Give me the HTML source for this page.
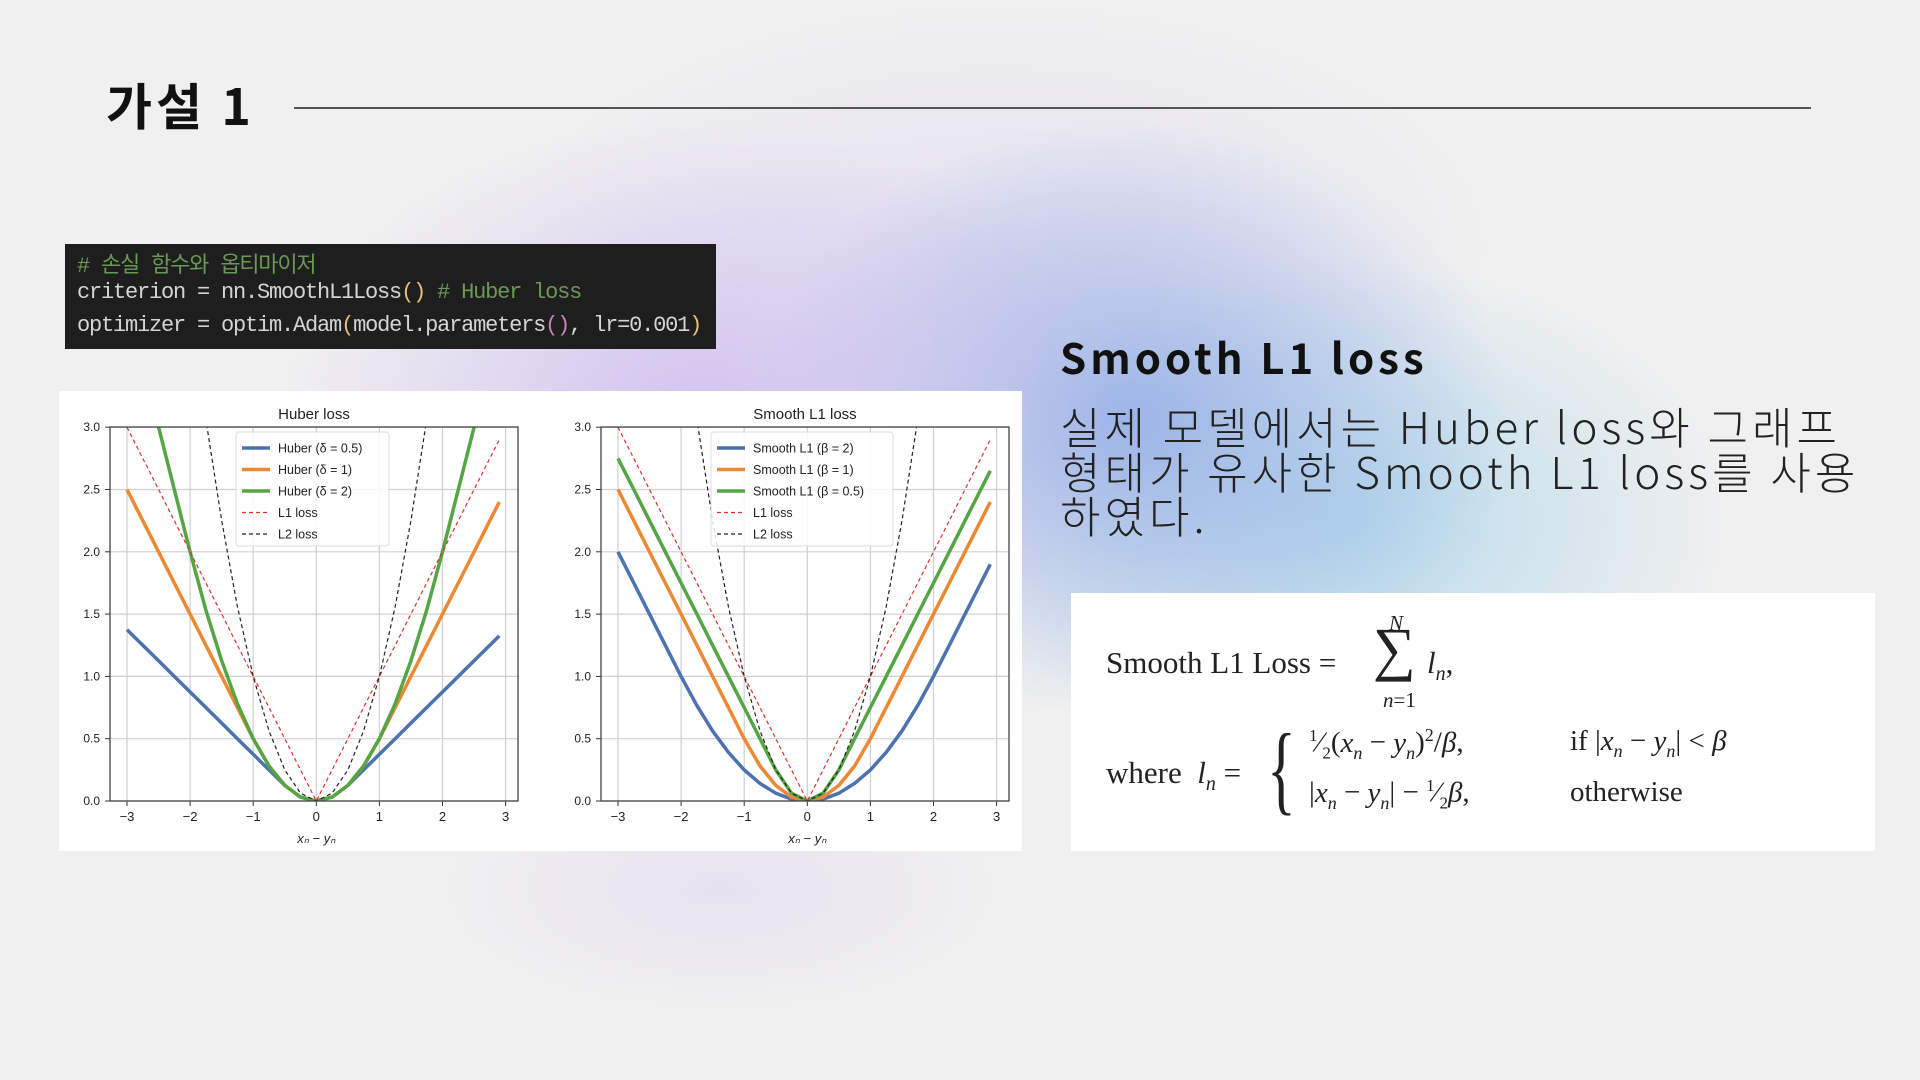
<!DOCTYPE html>
<html><head><meta charset="utf-8">
<style>
html,body{margin:0;padding:0}
body{width:1920px;height:1080px;position:relative;overflow:hidden;font-family:"Liberation Sans","Noto Sans CJK KR",sans-serif;
background:
radial-gradient(ellipse 420px 300px at 700px 420px, rgba(205,185,240,0.85), rgba(205,185,240,0) 100%),
radial-gradient(ellipse 380px 300px at 1130px 420px, rgba(150,175,230,0.9), rgba(150,175,230,0) 100%),
radial-gradient(ellipse 380px 260px at 1350px 520px, rgba(175,215,235,0.9), rgba(175,215,235,0) 100%),
radial-gradient(ellipse 280px 120px at 720px 890px, rgba(220,208,240,0.45), rgba(220,208,240,0) 100%),
radial-gradient(ellipse 500px 250px at 1000px 250px, rgba(225,220,240,0.8), rgba(225,220,240,0) 100%),
#f0f0f0;}
.abs{position:absolute}
#title{left:106px;top:68px;font-size:50px;font-weight:bold;color:#111;letter-spacing:4px;font-family:"Noto Sans CJK KR",sans-serif}
#rule{left:294px;top:107px;width:1517px;height:2px;background:#555}
#code{left:65px;top:244px;width:651px;height:105px;background:#1e1e1e;font-family:"Liberation Mono","Noto Sans CJK KR",monospace;font-size:22px;color:#d4d4d4;letter-spacing:-1.2px}
#code div{position:absolute;left:12px;white-space:pre}
.cm{color:#6a9955}.y{color:#e5c07b}.p{color:#c586c0}
#panel{left:59px;top:391px;width:963px;height:460px;background:#fff}
#h2{left:1060px;top:326px;font-size:42px;font-weight:bold;letter-spacing:4px;color:#111;font-family:"Noto Sans CJK KR",sans-serif}
#para{left:1060px;top:403px;font-size:44px;line-height:44.5px;color:#222;font-weight:300;letter-spacing:4px;width:860px;white-space:nowrap;font-family:"Noto Sans CJK KR",sans-serif}
#fbox{left:1071px;top:593px;width:804px;height:258px;background:#fff;font-family:"Liberation Serif",serif;color:#222}
#fbox span{position:absolute;white-space:nowrap}
.i{font-style:italic}
</style></head><body>
<div id="title" class="abs">가설 1</div>
<div id="rule" class="abs"></div>
<div id="code" class="abs">
<div style="top:3px" class="cm"># 손실 함수와 옵티마이저</div>
<div style="top:36px">criterion = nn.SmoothL1Loss<span class="y">()</span> <span class="cm"># Huber loss</span></div>
<div style="top:69px">optimizer = optim.Adam<span class="y">(</span>model.parameters<span class="p">()</span>, lr=0.001<span class="y">)</span></div>
</div>
<div id="panel" class="abs"></div>
<svg class="abs" style="left:0;top:0" width="1920" height="1080" id="charts"></svg>
<div id="h2" class="abs">Smooth L1 loss</div>
<div id="para" class="abs">실제 모델에서는 Huber loss와 그래프<br>형태가 유사한 Smooth L1 loss를 사용<br>하였다.</div>
<div id="fbox" class="abs">
<span style="left:35px;top:52px;font-size:31px">Smooth L1 Loss =</span>
<span style="left:302px;top:22px;font-size:60px">∑</span>
<span class="i" style="left:318px;top:18px;font-size:21px">N</span>
<span style="left:312px;top:95px;font-size:21px"><i>n</i>=1</span>
<span style="left:356px;top:52px;font-size:31px"><i>l<sub style="font-size:20px">n</sub></i>,</span>
<span style="left:35px;top:162px;font-size:31px">where &nbsp;<i>l<sub style="font-size:20px">n</sub></i> =</span>
<span style="left:196px;top:118px;font-size:100px;transform:scaleX(0.6);transform-origin:left">{</span>
<span style="left:238px;top:132px;font-size:29px"><sup style="font-size:17px">1</sup>⁄<sub style="font-size:17px">2</sub>(<i>x<sub style="font-size:18px">n</sub></i> − <i>y<sub style="font-size:18px">n</sub></i>)<sup style="font-size:18px">2</sup>/<i>β</i>,</span>
<span style="left:499px;top:132px;font-size:29px">if |<i>x<sub style="font-size:18px">n</sub></i> − <i>y<sub style="font-size:18px">n</sub></i>| &lt; <i>β</i></span>
<span style="left:238px;top:183px;font-size:29px">|<i>x<sub style="font-size:18px">n</sub></i> − <i>y<sub style="font-size:18px">n</sub></i>| − <sup style="font-size:17px">1</sup>⁄<sub style="font-size:17px">2</sub><i>β</i>,</span>
<span style="left:499px;top:183px;font-size:29px">otherwise</span>
</div>
<script>
const xs=[-3,-2.75,-2.5,-2.25,-2,-1.75,-1.5,-1.25,-1,-0.75,-0.5,-0.25,0,0.25,0.5,0.75,1,1.25,1.5,1.75,2,2.25,2.5,2.75,2.9];
const huber05=[1.375,1.25,1.125,1.0,0.875,0.75,0.625,0.5,0.375,0.25,0.125,0.031,0,0.031,0.125,0.25,0.375,0.5,0.625,0.75,0.875,1.0,1.125,1.25,1.325];
const huber1=[2.5,2.25,2,1.75,1.5,1.25,1,0.75,0.5,0.281,0.125,0.031,0,0.031,0.125,0.281,0.5,0.75,1,1.25,1.5,1.75,2,2.25,2.4];
const huber2=[4,3.5,3,2.5,2,1.531,1.125,0.781,0.5,0.281,0.125,0.031,0,0.031,0.125,0.281,0.5,0.781,1.125,1.531,2,2.5,3,3.5,3.8];
const l1=[3,2.75,2.5,2.25,2,1.75,1.5,1.25,1,0.75,0.5,0.25,0,0.25,0.5,0.75,1,1.25,1.5,1.75,2,2.25,2.5,2.75,2.9];
const l2=[9,7.56,6.25,5.06,4,3.06,2.25,1.56,1,0.5625,0.25,0.0625,0,0.0625,0.25,0.5625,1,1.56,2.25,3.06,4,5.06,6.25,7.56,8.41];
const smooth2=[2,1.75,1.5,1.25,1,0.766,0.5625,0.391,0.25,0.141,0.0625,0.0156,0,0.0156,0.0625,0.141,0.25,0.391,0.5625,0.766,1,1.25,1.5,1.75,1.9];
const smooth1=[2.5,2.25,2,1.75,1.5,1.25,1,0.75,0.5,0.281,0.125,0.031,0,0.031,0.125,0.281,0.5,0.75,1,1.25,1.5,1.75,2,2.25,2.4];
const smooth05=[2.75,2.5,2.25,2,1.75,1.5,1.25,1,0.75,0.5,0.25,0.0625,0,0.0625,0.25,0.5,0.75,1,1.25,1.5,1.75,2,2.25,2.5,2.65];
const xTicks=[-3,-2,-1,0,1,2,3];
const yTicks=[0,0.5,1,1.5,2,2.5,3];
const yTickLabels=["0.0","0.5","1.0","1.5","2.0","2.5","3.0"];
const xTickLabels=["−3","−2","−1","0","1","2","3"];
const huberNames=["Huber (δ = 0.5)","Huber (δ = 1)","Huber (δ = 2)","L1 loss","L2 loss"];
const smoothNames=["Smooth L1 (β = 2)","Smooth L1 (β = 1)","Smooth L1 (β = 0.5)","L1 loss","L2 loss"];

const NS="http://www.w3.org/2000/svg";
const svg=document.getElementById('charts');
function mk(tag,attrs,parent){const e=document.createElementNS(NS,tag);for(const k in attrs)e.setAttribute(k,attrs[k]);(parent||svg).appendChild(e);return e;}
const colors=["#4c72b0","#ee8833","#55a544"];
function panel(id,left,title,series,names,lx,lw){
  const L=left,R=left+408,T=427,B=801;
  const ux=63.1, uy=124.6;
  const sx=v=>L+17+(v+3)*ux, sy=v=>B-v*uy;
  const g=mk('g',{});
  
  
  const cp=mk('clipPath',{id:'cp'+id},g);mk('rect',{x:L,y:T,width:R-L,height:B-T},cp);
  xTicks.forEach((t,i)=>{
    const gl=mk('line',{x1:sx(t),x2:sx(t),y1:T,y2:B,stroke:'#d0d0d0','stroke-width':1.2},g);
    
    
    mk('line',{x1:sx(t),x2:sx(t),y1:B,y2:B+5,stroke:'#333'},g);
    const tx=mk('text',{x:sx(t),y:B+20,'font-size':13,'text-anchor':'middle',fill:'#222'},g);tx.textContent=xTickLabels[i];
    
    
  });
  yTicks.forEach((t,i)=>{
    const gl=mk('line',{x1:L,x2:R,y1:sy(t),y2:sy(t),stroke:'#d0d0d0','stroke-width':1.2},g);
    
    
    mk('line',{x1:L-5,x2:L,y1:sy(t),y2:sy(t),stroke:'#333'},g);
    const tx=mk('text',{x:L-10,y:sy(t)+4,'font-size':12,'text-anchor':'end',fill:'#222'},g);tx.textContent=yTickLabels[i];
    
    
  });
  const styles=[{c:colors[0],w:3.5},{c:colors[1],w:3.5},{c:colors[2],w:3.5},{c:'#e03030',w:1.2,d:'4,3'},{c:'#222',w:1.2,d:'4,3'}];
  series.forEach((s,k)=>{
    const pts=xs.map((x,i)=>sx(x).toFixed(1)+','+sy(s[i]).toFixed(1)).join(' ');
    const st=styles[k];
    const pl=mk('polyline',{points:pts,fill:'none',stroke:st.c,'stroke-width':st.w,'clip-path':'url(#cp'+id+')','stroke-linejoin':'round'},g);
    if(st.d)pl.setAttribute('stroke-dasharray',st.d);
    
    
  });
  mk('rect',{x:L,y:T,width:R-L,height:B-T,fill:'none',stroke:'#444','stroke-width':1.3},g);
  const tt=mk('text',{x:(L+R)/2,y:T-8,'font-size':15,'text-anchor':'middle',fill:'#222'},g);tt.textContent=title;
  
  
  const xl=mk('text',{x:sx(0),y:B+42,'font-size':13,'text-anchor':'middle',fill:'#222','font-style':'italic'},g);xl.textContent='xₙ − yₙ';
  
  
  const lg=mk('g',{},g);
  
  
  mk('rect',{x:lx,y:432,width:lw,height:114,rx:3,fill:'#fff','fill-opacity':0.85,stroke:'#ddd'},lg);
  names.forEach((n,k)=>{
    const yy=448+k*21.5;const st=styles[k];
    const ln=mk('line',{x1:lx+6,x2:lx+34,y1:yy,y2:yy,stroke:st.c,'stroke-width':st.w},lg);
    if(st.d)ln.setAttribute('stroke-dasharray',st.d);
    const t=mk('text',{x:lx+42,y:yy+4.5,'font-size':12.5,fill:'#222'},lg);t.textContent=n;
    
    
  });
}
panel('huber-chart',110,'Huber loss',[huber05,huber1,huber2,l1,l2],huberNames,236,153);
panel('smooth-l1-chart',601,'Smooth L1 loss',[smooth2,smooth1,smooth05,l1,l2],smoothNames,711,182);
</script>
</body></html>
